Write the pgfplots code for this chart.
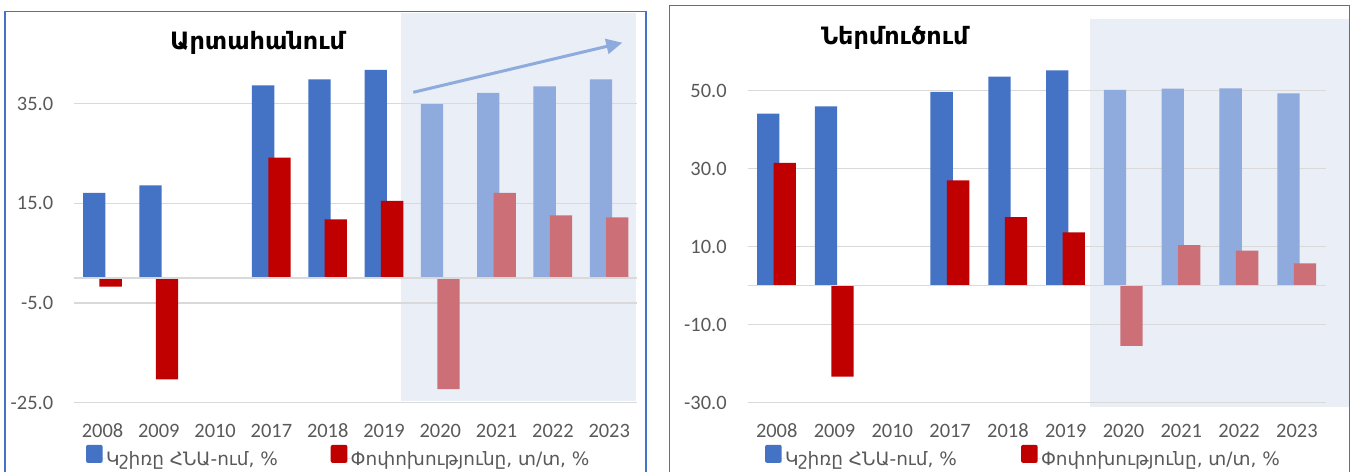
\documentclass[border=0pt]{standalone}
\usepackage{fontspec}
\setmainfont{Carlito}
\newfontfamily\armfont{DejaVu Sans}
\usepackage{pgfplots}
\pgfplotsset{compat=1.18}
\usetikzlibrary{arrows.meta}

\definecolor{barblue}{HTML}{4472C4}
\definecolor{barbluelight}{HTML}{8FAADC}
\definecolor{barred}{HTML}{C00000}
\definecolor{barredlight}{HTML}{CD6F77}
\definecolor{shadebg}{HTML}{E9EEF7}
\definecolor{gridgray}{HTML}{D9D9D9}
\definecolor{txtgray}{HTML}{595959}
\definecolor{framecol}{HTML}{4472C4}

\pgfplotsset{
  panel/.style={
    scale only axis,
    anchor=south west,
    xmin=-0.5, xmax=9.5,
    xtick={0,...,9},
    xticklabels={2008,2009,2010,2017,2018,2019,2020,2021,2022,2023},
    axis line style={draw=none},
    major tick length=0pt,
    ymajorgrids,
    grid style={color=gridgray, line width=1.3bp},
    ticklabel style={font=\fontsize{20.5}{24}\selectfont, text=txtgray, inner sep=0pt},
    xticklabel style={anchor=base, yshift=-34.8bp},
    yticklabel style={anchor=east, xshift=-21bp},
    clip=false,
    legend columns=2,
    legend style={draw=none, fill=none, inner sep=0pt, outer sep=0pt,
      anchor=west, font=\armfont\fontsize{18.5}{22}\selectfont, text=txtgray,
      nodes={inner sep=0pt, outer sep=0pt}},
    legend image code/.code={%
      \fill[##1, rounded corners=2bp] (0bp,-4bp) rectangle (16.7bp,14bp);
      \path (0bp,0bp) -- (20bp,0bp);},
  },
  darkbar/.style={ybar, bar width=22.3bp, draw=none, fill=#1},
}

\begin{document}
\begin{tikzpicture}[x=1bp, y=1bp]
\path[use as bounding box] (0,0) rectangle (1353,472);

% highlighted forecast-period backgrounds
\fill[shadebg] (401,71.3) rectangle (636,459.3);
\fill[shadebg] (1089.7,65) rectangle (1349.7,453);

% panel frames (open at the bottom edge)
\draw[framecol, line width=1.5bp] (5,-5) -- (5,460.3) -- (646,460.3) -- (646,-5);
\draw[framecol, line width=1.5bp] (669.7,-5) -- (669.7,466.3) -- (1349.7,466.3) -- (1349.7,-5);

% ---------------- Export ----------------
\begin{axis}[panel,
  at={(74.35bp,69.3bp)},
  width=563bp, height=348.8bp,
  ymin=-25, ymax=45,
  ytick={-25,-5,15,35},
  yticklabels={-25.0,-5.0,15.0,35.0},
  legend style={at={(axis description cs:0.0207,-0.1521)}},
]
\addplot[darkbar=barblue, bar shift=-8.3bp] coordinates
  {(0,17.1) (1,18.6) (3,38.7) (4,39.9) (5,41.8)};
\addlegendentry{\makebox[224.7bp][l]{Կշիռը ՀՆԱ-ում, \%}}
\addplot[darkbar=barred, bar shift=8.1bp] coordinates
  {(0,-1.7) (1,-20.3) (3,24.2) (4,11.8) (5,15.5)};
\addlegendentry{Փոփոխությունը, տ/տ, \%}
\addplot[darkbar=barbluelight, bar shift=-8.3bp, forget plot] coordinates
  {(6,34.9) (7,37.2) (8,38.5) (9,39.9)};
\addplot[darkbar=barredlight, bar shift=8.1bp, forget plot] coordinates
  {(6,-22.3) (7,17.1) (8,12.6) (9,12.2)};
\draw[gridgray, line width=1.6bp] (axis cs:-0.5,0) -- (axis cs:9.5,0);
\end{axis}

% ---------------- Import ----------------
\begin{axis}[panel,
  at={(747.8bp,69.3bp)},
  width=578bp, height=351bp,
  ymin=-30, ymax=60,
  ytick={-30,-10,10,30,50},
  yticklabels={-30.0,-10.0,10.0,30.0,50.0},
  legend style={at={(axis description cs:0.0298,-0.1511)}},
]
\addplot[darkbar=barblue, bar shift=-8.5bp] coordinates
  {(0,44.1) (1,46.0) (3,49.7) (4,53.6) (5,55.2)};
\addlegendentry{\makebox[236bp][l]{Կշիռը ՀՆԱ-ում, \%}}
\addplot[darkbar=barred, bar shift=8bp] coordinates
  {(0,31.5) (1,-23.3) (3,27.0) (4,17.6) (5,13.7)};
\addlegendentry{Փոփոխությունը, տ/տ, \%}
\addplot[darkbar=barbluelight, bar shift=-8.5bp, forget plot] coordinates
  {(6,50.2) (7,50.5) (8,50.6) (9,49.3)};
\addplot[darkbar=barredlight, bar shift=8bp, forget plot] coordinates
  {(6,-15.4) (7,10.4) (8,9.0) (9,5.7)};
\draw[gridgray, line width=1.6bp] (axis cs:-0.5,0) -- (axis cs:9.5,0);
\end{axis}

% titles and trend arrow
\node[anchor=base, font=\armfont\bfseries\fontsize{24}{28}\selectfont] at (257.6,422) {Արտահանում};
\node[anchor=base, font=\armfont\bfseries\fontsize{24}{28}\selectfont] at (894.8,427) {Ներմուծում};
\draw[barbluelight, line width=3bp, -{Triangle[length=16bp,width=15bp]}] (413.3,379.7) -- (622.3,429.3);
\end{tikzpicture}
\end{document}
